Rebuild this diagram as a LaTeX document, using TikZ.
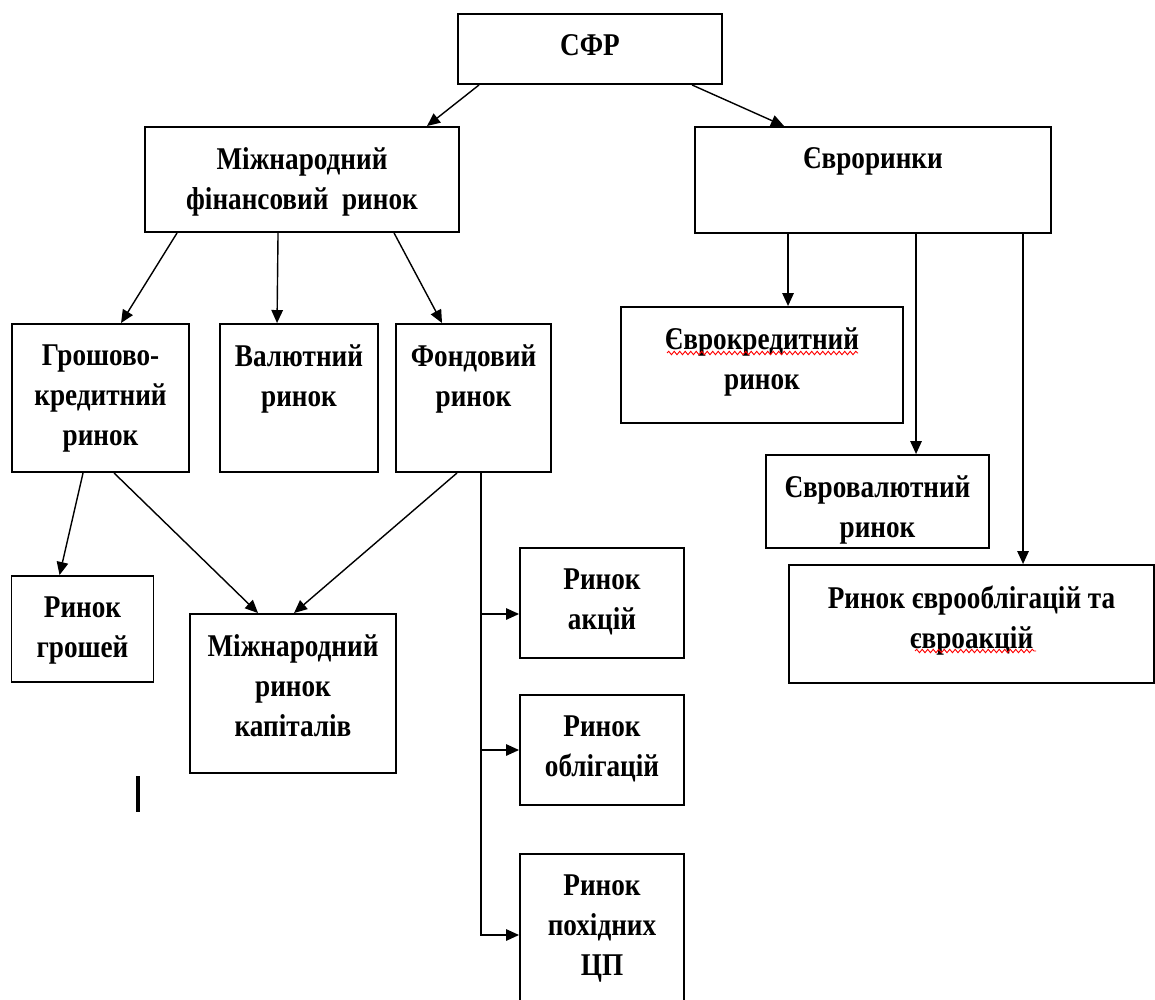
\documentclass[tikz,border=0pt]{standalone}
\usepackage{fontspec}
\setmainfont{Liberation Serif}[FakeStretch=0.86]
\usetikzlibrary{positioning, calc, arrows.meta, decorations.pathmorphing}

\begin{document}
\begin{tikzpicture}
	[
	Kasten/.style={draw, line width=1.1pt, inner sep=0pt},					%Rahmen der Bloecke
	KastenText/.style={align=center, inner sep=0pt, font=\bfseries\fontsize{18}{22.7}\selectfont},	%Beschriftung
	Pfeil/.style={-{Triangle[length=2.6mm, width=2.3mm]}, line width=0.8pt},	%Verbindungspfeil
	Wellenlinie/.style={red, line width=0.5pt, decorate, decoration={snake, amplitude=0.35mm, segment length=1.1mm}}	%Rechtschreibmarke
	]
	
	%% Abstand Text vom oberen Rand %%
	\def\TextAbst{0.43cm};
	
	\useasboundingbox (0,0) rectangle (23.1,-19.98);
	
	%%%%%%%%%%%%%%%%%%%%%%%%%% Bloecke %%%%%%%%%%%%%%%%%%%%%%%%%%%%%%%
	\node[Kasten, minimum width=5.28cm, minimum height=1.4cm]  (sfr)   at (11.8,-0.98)  {};
	\node[Kasten, minimum width=6.28cm, minimum height=2.1cm]  (mfr)   at (6.04,-3.59)  {};
	\node[Kasten, minimum width=7.12cm, minimum height=2.12cm] (evr)   at (17.46,-3.6)  {};
	% Ebene unter dem internationalen Finanzmarkt
	\node[Kasten, minimum width=3.54cm, minimum height=2.96cm] (gkr)   at (2.01,-7.96)  {};
	\node[Kasten, minimum width=3.16cm, minimum height=2.96cm] (vr)    at (5.98,-7.96)  {};
	\node[Kasten, minimum width=3.1cm,  minimum height=2.96cm] (fr)    at (9.47,-7.96)  {};
	% Euromaerkte
	\node[Kasten, minimum width=5.64cm, minimum height=2.32cm] (ekr)   at (15.24,-7.3)  {};
	\node[Kasten, minimum width=4.46cm, minimum height=1.86cm] (evalr) at (17.55,-10.03) {};
	\node[Kasten, minimum width=7.3cm,  minimum height=2.36cm] (reo)   at (19.43,-12.48) {};
	% untere Ebene
	\node[Kasten, minimum width=2.84cm, minimum height=2.12cm] (rg)    at (1.65,-12.58) {};
	\node[Kasten, minimum width=4.12cm, minimum height=3.18cm] (mrk)   at (5.86,-13.87) {};
	\node[Kasten, minimum width=3.28cm, minimum height=2.2cm]  (ra)    at (12.04,-12.06) {};
	\node[Kasten, minimum width=3.28cm, minimum height=2.2cm]  (ro)    at (12.04,-15.0)  {};
	\node[Kasten, minimum width=3.28cm, minimum height=3.32cm] (rp)    at (12.04,-18.74) {};
	
	% Beschriftungen
	\node[KastenText, below=\TextAbst of sfr.north]   (sfrText)   {СФР};
	\node[KastenText, below=\TextAbst of mfr.north]   (mfrText)   {Міжнародний\\фінансовий\ \ ринок};
	\node[KastenText, below=\TextAbst of evr.north]   (evrText)   {Євроринки};
	\node[KastenText, below=\TextAbst of gkr.north]   (gkrText)   {Грошово-\\кредитний\\ринок};
	\node[KastenText, below=\TextAbst of vr.north]    (vrText)    {Валютний\\ринок};
	\node[KastenText, below=\TextAbst of fr.north]    (frText)    {Фондовий\\ринок};
	\node[KastenText, below=\TextAbst of ekr.north]   (ekrText)   {Єврокредитний\\ринок};
	\node[KastenText, below=\TextAbst of evalr.north] (evalrText) {Євровалютний\\ринок};
	\node[KastenText, below=\TextAbst of reo.north]   (reoText)   {Ринок єврооблігацій та\\євроакцій};
	\node[KastenText, below=\TextAbst of rg.north]    (rgText)    {Ринок\\грошей};
	\node[KastenText, below=\TextAbst of mrk.north]   (mrkText)   {Міжнародний\\ринок\\капіталів};
	\node[KastenText, below=\TextAbst of ra.north]    (raText)    {Ринок\\акцій};
	\node[KastenText, below=\TextAbst of ro.north]    (roText)    {Ринок\\облігацій};
	\node[KastenText, below=\TextAbst of rp.north]    (rpText)    {Ринок\\похідних\\ЦП};
	
	%%%%%%%%%%%%%%%%%%%%%%%%%% Pfeile %%%%%%%%%%%%%%%%%%%%%%%%%%%%%%%
	\draw[Pfeil] ([xshift=0.44cm]sfr.south west) -- ([xshift=5.66cm]mfr.north west);
	\draw[Pfeil] ([xshift=4.7cm]sfr.south west)  -- ([xshift=1.8cm]evr.north west);
	\draw[Pfeil] ([xshift=0.66cm]mfr.south west) -- ([xshift=2.2cm]gkr.north west);
	\draw[Pfeil] ([xshift=2.68cm]mfr.south west) -- ([xshift=1.16cm]vr.north west);
	\draw[Pfeil] ([xshift=5.0cm]mfr.south west)  -- ([xshift=0.94cm]fr.north west);
	\draw[Pfeil] ([xshift=1.44cm]gkr.south west) -- ([xshift=0.98cm]rg.north west);
	\draw[Pfeil] ([xshift=2.06cm]gkr.south west) -- ([xshift=1.38cm]mrk.north west);
	\draw[Pfeil] ([xshift=1.24cm]fr.south west)  -- ([xshift=2.1cm]mrk.north west);
	% Abzweigungen vom Fondsmarkt
	\draw[Pfeil] ([xshift=1.72cm]fr.south west) |- ([yshift=-0.22cm]ra.west);
	\draw[Pfeil] ([xshift=1.72cm]fr.south west) |- (ro.west);
	\draw[Pfeil] ([xshift=1.72cm]fr.south west) |- ([yshift=0.04cm]rp.west);
	% Euromaerkte
	\draw[Pfeil] ([xshift=1.88cm]evr.south west) -- ([xshift=1.88cm]evr.south west |- ekr.north);
	\draw[Pfeil] ([xshift=4.44cm]evr.south west) -- ([xshift=4.44cm]evr.south west |- evalr.north);
	\draw[Pfeil] ([xshift=6.58cm]evr.south west) -- ([xshift=6.58cm]evr.south west |- reo.north);
	
	% Rechtschreibmarken und Cursor
	\draw[Wellenlinie] (13.34,-7.06) -- (17.16,-7.06);
	\draw[Wellenlinie] (18.3,-13.02) -- (20.72,-13.02);
	\draw[line width=2pt] (2.76,-15.52) -- (2.76,-16.24);
\end{tikzpicture}
\end{document}
